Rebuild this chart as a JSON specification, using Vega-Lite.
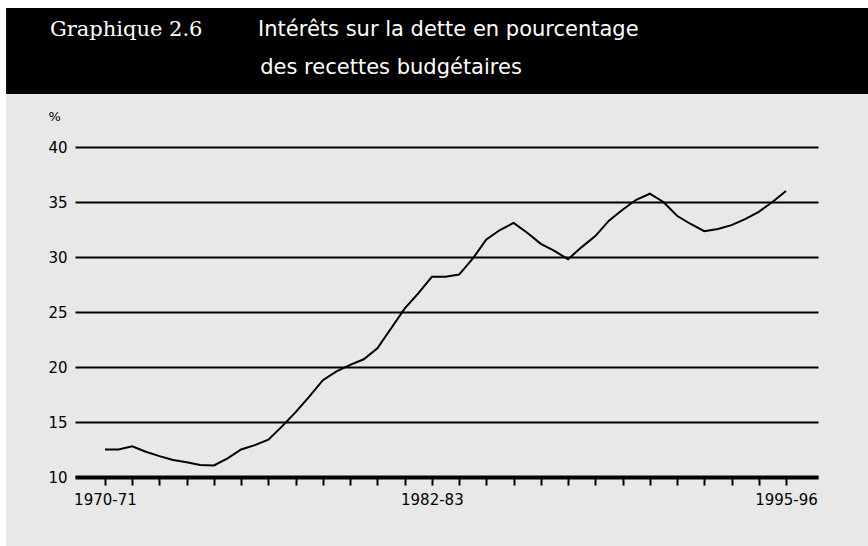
{
  "$schema": "https://vega.github.io/schema/vega-lite/v6.json",
  "width": 743,
  "height": 330,
  "autosize": {"type": "none"},
  "padding": {"left": 75, "top": 147, "right": 50, "bottom": 69},
  "background": "white",
  "config": {"view": {"stroke": null}, "font": "DejaVu Sans"},
  "layer": [
    {
      "data": {"values": [{}]},
      "mark": {"type": "rect", "color": "#e8e8e8", "clip": false},
      "encoding": {
        "x": {"datum": 1966.37, "type": "quantitative", "scale": {"domain": [1968.9, 1996.175], "nice": false, "zero": false}},
        "x2": {"datum": 1999.5},
        "y": {"datum": 44.8, "type": "quantitative", "scale": {"domain": [10, 40], "nice": false, "zero": false}},
        "y2": {"datum": 3.0}
      }
    },
    {
      "data": {"values": [{}]},
      "mark": {"type": "rect", "color": "black", "clip": false},
      "encoding": {
        "x": {"datum": 1966.37, "type": "quantitative", "scale": {"domain": [1968.9, 1996.175], "nice": false, "zero": false}},
        "x2": {"datum": 1999.5},
        "y": {"datum": 52.64, "type": "quantitative", "scale": {"domain": [10, 40], "nice": false, "zero": false}},
        "y2": {"datum": 44.82}
      }
    },
    {
      "data": {"values": [{}]},
      "mark": {"type": "text", "color": "white", "font": "DejaVu Serif", "fontSize": 21, "align": "left", "baseline": "alphabetic", "clip": false},
      "encoding": {
        "x": {"datum": 1967.98, "type": "quantitative", "scale": {"domain": [1968.9, 1996.175], "nice": false, "zero": false}},
        "y": {"datum": 50.09, "type": "quantitative", "scale": {"domain": [10, 40], "nice": false, "zero": false}},
        "text": {"value": "Graphique 2.6"}
      }
    },
    {
      "data": {"values": [{}]},
      "mark": {"type": "text", "color": "white", "font": "DejaVu Sans", "fontSize": 21, "align": "left", "baseline": "alphabetic", "clip": false},
      "encoding": {
        "x": {"datum": 1975.62, "type": "quantitative", "scale": {"domain": [1968.9, 1996.175], "nice": false, "zero": false}},
        "y": {"datum": 50.09, "type": "quantitative", "scale": {"domain": [10, 40], "nice": false, "zero": false}},
        "text": {"value": "Intérêts sur la dette en pourcentage"}
      }
    },
    {
      "data": {"values": [{}]},
      "mark": {"type": "text", "color": "white", "font": "DejaVu Sans", "fontSize": 21, "align": "left", "baseline": "alphabetic", "clip": false},
      "encoding": {
        "x": {"datum": 1975.7, "type": "quantitative", "scale": {"domain": [1968.9, 1996.175], "nice": false, "zero": false}},
        "y": {"datum": 46.64, "type": "quantitative", "scale": {"domain": [10, 40], "nice": false, "zero": false}},
        "text": {"value": "des recettes budgétaires"}
      }
    },
    {
      "data": {"values": [
        {"year": 1970.0, "pct": 12.5}, {"year": 1970.5, "pct": 12.5},
        {"year": 1971.0, "pct": 12.8}, {"year": 1971.5, "pct": 12.3},
        {"year": 1972.0, "pct": 11.9}, {"year": 1972.5, "pct": 11.55},
        {"year": 1973.0, "pct": 11.35}, {"year": 1973.5, "pct": 11.1},
        {"year": 1974.0, "pct": 11.05}, {"year": 1974.5, "pct": 11.7},
        {"year": 1975.0, "pct": 12.5}, {"year": 1975.5, "pct": 12.9},
        {"year": 1976.0, "pct": 13.4}, {"year": 1976.5, "pct": 14.6},
        {"year": 1977.0, "pct": 15.9}, {"year": 1977.5, "pct": 17.3},
        {"year": 1978.0, "pct": 18.8}, {"year": 1978.5, "pct": 19.6},
        {"year": 1979.0, "pct": 20.2}, {"year": 1979.5, "pct": 20.7},
        {"year": 1980.0, "pct": 21.7}, {"year": 1980.5, "pct": 23.5},
        {"year": 1981.0, "pct": 25.3}, {"year": 1981.5, "pct": 26.7},
        {"year": 1982.0, "pct": 28.2}, {"year": 1982.5, "pct": 28.2},
        {"year": 1983.0, "pct": 28.4}, {"year": 1983.5, "pct": 29.85},
        {"year": 1984.0, "pct": 31.6}, {"year": 1984.5, "pct": 32.45},
        {"year": 1985.0, "pct": 33.1}, {"year": 1985.5, "pct": 32.2},
        {"year": 1986.0, "pct": 31.2}, {"year": 1986.5, "pct": 30.55},
        {"year": 1987.0, "pct": 29.8}, {"year": 1987.5, "pct": 30.9},
        {"year": 1988.0, "pct": 31.9}, {"year": 1988.5, "pct": 33.3},
        {"year": 1989.0, "pct": 34.3}, {"year": 1989.5, "pct": 35.2},
        {"year": 1990.0, "pct": 35.75}, {"year": 1990.5, "pct": 35.0},
        {"year": 1991.0, "pct": 33.75}, {"year": 1991.5, "pct": 33.0},
        {"year": 1992.0, "pct": 32.35}, {"year": 1992.5, "pct": 32.55},
        {"year": 1993.0, "pct": 32.9}, {"year": 1993.5, "pct": 33.45},
        {"year": 1994.0, "pct": 34.1}, {"year": 1994.5, "pct": 35.0},
        {"year": 1995.0, "pct": 36.0}
      ]},
      "mark": {"type": "line", "color": "black", "strokeWidth": 2},
      "encoding": {
        "x": {
          "field": "year", "type": "quantitative",
          "scale": {"domain": [1968.9, 1996.175], "nice": false, "zero": false},
          "axis": {
            "values": [1970,1971,1972,1973,1974,1975,1976,1977,1978,1979,1980,1981,1982,1983,1984,1985,1986,1987,1988,1989,1990,1991,1992,1993,1994,1995],
            "tickCount": 40,
            "title": null,
            "grid": false,
            "domainColor": "black",
            "domainWidth": 4,
            "tickColor": "black",
            "tickWidth": 2,
            "tickSize": 8,
            "labelExpr": "datum.value == 1970 ? '1970-71' : datum.value == 1982 ? '1982-83' : datum.value == 1995 ? '1995-96' : ''",
            "labelFont": "DejaVu Sans",
            "labelFontSize": 15,
            "labelColor": "black",
            "labelPadding": 7,
            "labelOverlap": false,
            "labelFlush": false,
            "labelBound": false,
            "zindex": 1,
            "encode": {"labels": {"update": {"dx": {"signal": "datum.value == 1982 ? 16 : 0"}}}}
          }
        },
        "y": {
          "field": "pct", "type": "quantitative",
          "scale": {"domain": [10, 40], "nice": false, "zero": false},
          "axis": {
            "values": [10, 15, 20, 25, 30, 35, 40],
            "title": "%",
            "titleAngle": 0,
            "titleAlign": "left",
            "titleBaseline": "middle",
            "titleX": -27,
            "titleY": -31,
            "titleFont": "DejaVu Sans",
            "titleFontSize": 13,
            "titleFontWeight": "normal",
            "titleColor": "black",
            "domain": false,
            "ticks": false,
            "grid": true,
            "gridColor": "black",
            "gridWidth": 2,
            "gridOpacity": 1,
            "labelFont": "DejaVu Sans",
            "labelFontSize": 15,
            "labelColor": "black",
            "labelPadding": 8,
            "zindex": 1
          }
        }
      }
    }
  ]
}
